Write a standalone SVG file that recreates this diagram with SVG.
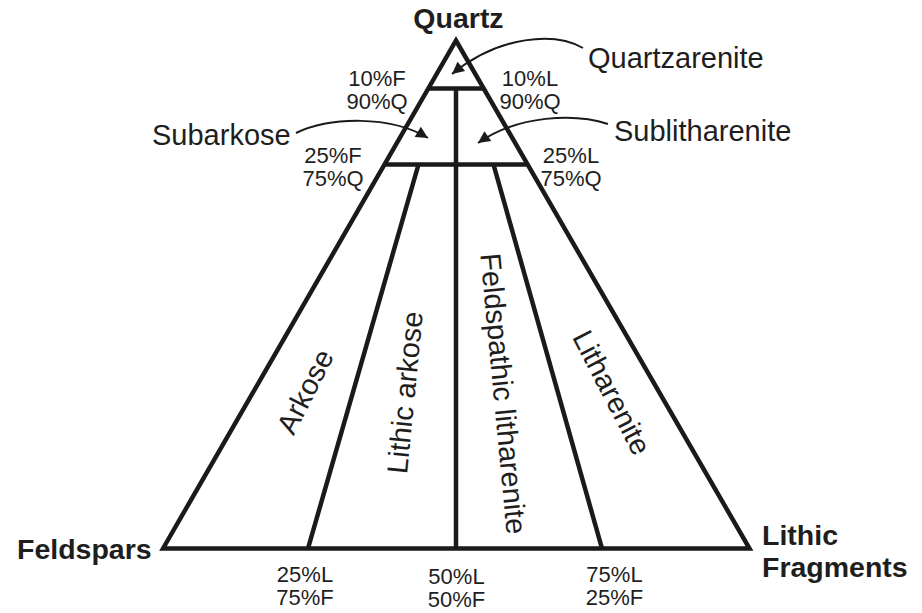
<svg xmlns="http://www.w3.org/2000/svg" width="922" height="613" viewBox="0 0 922 613">
  <style>
    .frame { fill: none; stroke: #1a1a1a; stroke-width: 4.5; stroke-linejoin: miter; stroke-linecap: butt; }
    .pointer { fill: none; stroke: #1a1a1a; stroke-width: 2; }
    .apex { font-family: "Liberation Sans", Arial, sans-serif; font-weight: bold; font-size: 28.5px; fill: #1e1e1e; }
    .name { font-family: "Liberation Sans", Arial, sans-serif; font-size: 29px; fill: #1e1e1e; }
    .pct { font-family: "Liberation Sans", Arial, sans-serif; font-size: 22px; fill: #1e1e1e; text-anchor: middle; }
  </style>
  <defs>
    <marker id="head" viewBox="0 0 10 10" refX="10" refY="5" markerUnits="userSpaceOnUse" markerWidth="16" markerHeight="12" orient="auto">
      <path d="M0,0 L10,5 L0,10 z" fill="#1a1a1a"/>
    </marker>
  </defs>

  <rect width="922" height="613" fill="#ffffff"/>

  <!-- ternary triangle and field boundaries -->
  <g id="triangle">
    <path class="frame" d="M163,548.5 L456,40.5 L749.5,548.5 Z"/>
    <line class="frame" x1="428" y1="88.5" x2="484" y2="88.5"/>
    <line class="frame" x1="384" y1="164.5" x2="528" y2="164.5"/>
    <line class="frame" x1="456" y1="88.5" x2="456" y2="548.5"/>
    <line class="frame" x1="418.5" y1="164.5" x2="308" y2="548.5"/>
    <line class="frame" x1="493.5" y1="164.5" x2="602" y2="548.5"/>
  </g>

  <!-- end members -->
  <g id="quartz"><text class="apex" x="458.5" y="28" text-anchor="middle">Quartz</text></g>
  <g id="feldspars"><text class="apex" x="17" y="559">Feldspars</text></g>
  <g id="lithic-fragments">
    <text class="apex" x="762" y="545">Lithic</text>
    <text class="apex" x="762" y="577">Fragments</text>
  </g>

  <!-- boundary percentages -->
  <g id="pct-q90">
    <text class="pct" x="377" y="86">10%F</text>
    <text class="pct" x="377" y="109">90%Q</text>
    <text class="pct" x="530" y="86">10%L</text>
    <text class="pct" x="530" y="109">90%Q</text>
  </g>
  <g id="pct-q75">
    <text class="pct" x="333" y="163">25%F</text>
    <text class="pct" x="333" y="186">75%Q</text>
    <text class="pct" x="571" y="163">25%L</text>
    <text class="pct" x="571" y="186">75%Q</text>
  </g>
  <g id="pct-base">
    <text class="pct" x="305" y="582">25%L</text>
    <text class="pct" x="305" y="605">75%F</text>
    <text class="pct" x="456.5" y="584">50%L</text>
    <text class="pct" x="456.5" y="607">50%F</text>
    <text class="pct" x="614.5" y="582">75%L</text>
    <text class="pct" x="614.5" y="605">25%F</text>
  </g>

  <!-- field names inside the triangle -->
  <g id="arkose"><text class="name" text-anchor="middle" transform="translate(306,392) rotate(-63)" y="9">Arkose</text></g>
  <g id="lithic-arkose"><text class="name" text-anchor="middle" transform="translate(406,392.6) rotate(-84.4)" y="9">Lithic arkose</text></g>
  <g id="feldspathic-litharenite"><text class="name" text-anchor="middle" transform="translate(502.5,393.7) rotate(84.6)" y="9">Feldspathic litharenite</text></g>
  <g id="litharenite"><text class="name" text-anchor="middle" transform="translate(611,393) rotate(62.5)" y="9">Litharenite</text></g>

  <!-- field names outside, with pointers -->
  <g id="quartzarenite"><text class="name" x="588" y="68">Quartzarenite</text></g>
  <g id="subarkose"><text class="name" x="152" y="145">Subarkose</text></g>
  <g id="sublitharenite"><text class="name" x="614" y="141">Sublitharenite</text></g>

  <g id="connectors">
    <path class="pointer" marker-end="url(#head)" d="M583,48 C555,32 500,35 452,74"/>
    <path class="pointer" marker-end="url(#head)" d="M296,133 C330,117 390,115 428,138"/>
    <path class="pointer" marker-end="url(#head)" d="M608,124 C575,113 518,115 478,143"/>
  </g>
</svg>
